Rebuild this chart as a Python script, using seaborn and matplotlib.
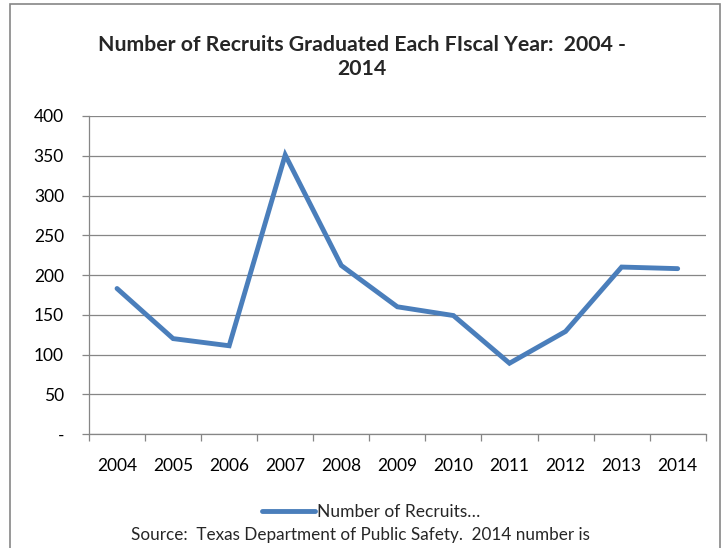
import matplotlib
matplotlib.use("Agg")
import matplotlib.pyplot as plt
import seaborn as sns
import pandas as pd
from matplotlib.patches import Rectangle
from matplotlib.lines import Line2D

years = ["2004", "2005", "2006", "2007", "2008", "2009", "2010", "2011", "2012", "2013", "2014"]
recruits = [183, 120, 111, 351, 212, 160, 149, 89, 129, 210, 208]
y_ticks = [0, 50, 100, 150, 200, 250, 300, 350, 400]
y_tick_labels = ["-", "50", "100", "150", "200", "250", "300", "350", "400"]
title = "Number of Recruits Graduated Each FIscal Year:  2004 -\n2014"
legend_label = "Number of Recruits\u2026"
source = "Source:  Texas Department of Public Safety.  2014 number is"

sns.set_style("white")
plt.rcParams["font.family"] = ["Lato", "DejaVu Sans"]

W, H = 723, 548
fig = plt.figure(figsize=(W / 100, H / 100), dpi=100)
ax = fig.add_axes([89 / W, 1 - 434 / H, (705.7 - 89) / W, (434 - 116) / H])

df = pd.DataFrame({"pos": list(range(len(years))), "value": recruits})
line_color = "#4A7EBB"
sns.lineplot(data=df, x="pos", y="value", ax=ax, color=line_color, linewidth=3.5,
             solid_capstyle="round", solid_joinstyle="miter")

grey = "#868686"
fs = 12.5
ax.set_xlim(-0.5, len(years) - 0.5)
ax.set_ylim(0, 400)
ax.set_yticks(y_ticks)
ax.set_yticklabels(y_tick_labels)
ax.yaxis.grid(True, color=grey, linewidth=0.9)
ax.xaxis.grid(False)
ax.set_xticks([i - 0.5 for i in range(len(years) + 1)])
ax.set_xticklabels([])
ax.set_xticks(list(range(len(years))), minor=True)
ax.set_xticklabels(years, minor=True)
ax.tick_params(axis="x", which="major", direction="out", length=5, width=0.9, color=grey, bottom=True)
ax.tick_params(axis="x", which="minor", length=0, pad=17, labelsize=fs, labelcolor="black")
ax.tick_params(axis="y", which="major", direction="out", length=5, width=0.9, color=grey, left=True, pad=13,
               labelsize=fs, labelcolor="black")
for s in ["top", "right"]:
    ax.spines[s].set_visible(False)
for s in ["left", "bottom"]:
    ax.spines[s].set_color(grey)
    ax.spines[s].set_linewidth(0.9)
ax.set_xlabel("")
ax.set_ylabel("")
if ax.get_legend() is not None:
    ax.get_legend().remove()

fig.text(362 / W, 1 - 57 / H, title, ha="center", va="center", fontsize=15.3, fontweight="bold",
         linespacing=1.3)

handle = Line2D([], [], color=line_color, linewidth=3.5, solid_capstyle="round")
fig.legend([handle], [legend_label], loc="center", bbox_to_anchor=(371 / W, 1 - 512 / H),
           frameon=False, handlelength=3.1, handletextpad=0.1, fontsize=fs)

fig.text(360 / W, 1 - 535 / H, source, ha="center", va="center", fontsize=12.3)

frame = Rectangle((10 / W, -0.05), (720 - 10) / W, (1 - 4 / H) + 0.05, transform=fig.transFigure,
                  fill=False, edgecolor=grey, linewidth=1.2)
fig.add_artist(frame)

fig.savefig("out.png", dpi=100)
